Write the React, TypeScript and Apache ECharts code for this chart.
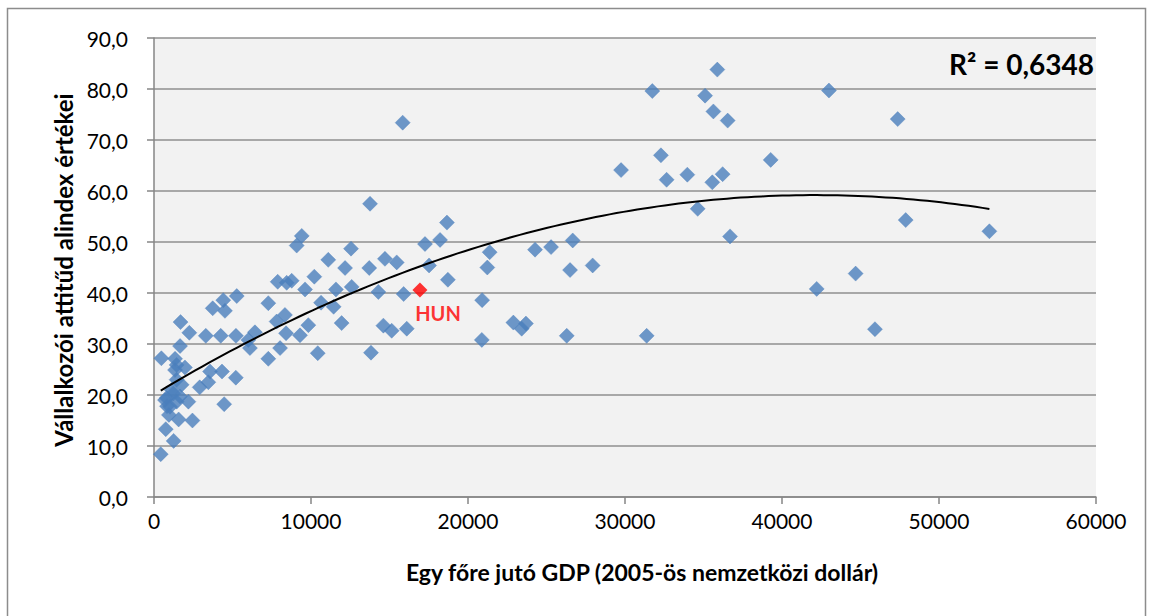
import React, { useEffect, useRef } from "react";
import * as echarts from "echarts";

// GDP per capita (2005 international dollars)
const gdp = [
  430, 1250, 750, 2450, 1570, 950, 1020, 830, 700, 810,
  1440, 2190, 4470, 1660, 1230, 1130, 1760, 2910, 3460, 1440,
  3570, 4330, 5210, 1340, 1970, 1440, 470, 1340, 1660, 1690,
  2250, 3300, 4250, 5220, 3740, 4410, 4520, 5270, 6010, 6430,
  6110, 7280, 7280, 8030, 7810, 8340, 8410, 9300, 9830, 10430,
  7880, 8450, 8770, 9620, 10210, 10640, 11440, 11590, 11100, 13760,
  9410, 9090, 12550, 18660, 18220, 17260, 12170, 13710, 14710, 15460,
  17520, 21380, 21230, 12590, 14290, 15900, 18720, 20900, 11950, 14610,
  15140, 16100, 20880, 13820, 15840, 29750, 32290, 32650, 33970, 34630,
  24270, 25290, 26670, 26500, 27940, 22890, 23690, 23420, 26290, 31380,
  35880, 31740, 35100, 42990, 35630, 36540, 47370, 35560, 36220, 39280,
  36690, 42210, 44690, 45920, 47880, 53210,
];
// Entrepreneurial attitude sub-index values
const attitude = [
  8.4, 11.0, 13.3, 15.0, 15.2, 16.1, 17.7, 17.8, 19.0, 19.4,
  18.7, 18.7, 18.2, 19.7, 20.3, 21.0, 22.0, 21.5, 22.5, 23.0,
  24.6, 24.6, 23.4, 24.9, 25.4, 25.9, 27.2, 27.1, 29.6, 34.3,
  32.2, 31.6, 31.6, 31.6, 37.0, 38.6, 36.5, 39.4, 30.8, 32.3,
  29.2, 38.0, 27.1, 29.2, 34.4, 35.7, 32.1, 31.7, 33.7, 28.2,
  42.2, 42.0, 42.4, 40.7, 43.2, 38.1, 37.3, 40.7, 46.5, 57.5,
  51.2, 49.3, 48.7, 53.8, 50.4, 49.6, 44.9, 44.9, 46.7, 46.0,
  45.4, 48.0, 45.0, 41.2, 40.2, 39.8, 42.6, 38.6, 34.1, 33.6,
  32.6, 33.0, 30.8, 28.3, 73.4, 64.1, 67.0, 62.2, 63.2, 56.5,
  48.5, 49.0, 50.3, 44.5, 45.4, 34.2, 34.0, 33.0, 31.6, 31.6,
  83.8, 79.6, 78.7, 79.7, 75.6, 73.8, 74.1, 61.7, 63.3, 66.1,
  51.1, 40.8, 43.8, 32.9, 54.3, 52.1,
];
const hunLabel = "HUN";
const hunGdp = [16940];
const hunAttitude = [40.6];

const xTicks = { min: 0, max: 60000, interval: 10000 };
const yTicks = { min: 0, max: 90, interval: 10 };

const xTitle = "Egy főre jutó GDP (2005-ös nemzetközi dollár)";
const yTitle = "Vállalkozói attitűd alindex értékei";
const r2Text = "R² = 0,6348";

// quadratic least-squares trend fitted to all points (x in thousands)
function quadFit(xs: number[], ys: number[]) {
  const n = xs.length;
  let s1 = 0, s2 = 0, s3 = 0, s4 = 0, t0 = 0, t1 = 0, t2 = 0;
  for (let i = 0; i < n; i++) {
    const x = xs[i] / 1000, y = ys[i];
    s1 += x; s2 += x * x; s3 += x * x * x; s4 += x * x * x * x;
    t0 += y; t1 += x * y; t2 += x * x * y;
  }
  const M = [
    [n, s1, s2, t0],
    [s1, s2, s3, t1],
    [s2, s3, s4, t2],
  ];
  for (let c = 0; c < 3; c++) {
    for (let r = c + 1; r < 3; r++) {
      const f = M[r][c] / M[c][c];
      for (let k = c; k < 4; k++) M[r][k] -= f * M[c][k];
    }
  }
  const sol = [0, 0, 0];
  for (let r = 2; r >= 0; r--) {
    let s = M[r][3];
    for (let k = r + 1; k < 3; k++) s -= M[r][k] * sol[k];
    sol[r] = s / M[r][r];
  }
  return sol; // c, b, a
}

export default function App() {
  const ref = useRef<HTMLDivElement>(null);
  useEffect(() => {
    if (!ref.current) return;
    const chart = echarts.init(ref.current, null, { renderer: "svg" });
    const allX = gdp.concat(hunGdp);
    const allY = attitude.concat(hunAttitude);
    const [c, b, a] = quadFit(allX, allY);
    const minX = Math.min(...allX);
    const maxX = Math.max(...allX);
    const trend: number[][] = [];
    const steps = 120;
    for (let i = 0; i <= steps; i++) {
      const x = minX + ((maxX - minX) * i) / steps;
      const xt = x / 1000;
      trend.push([x, c + b * xt + a * xt * xt]);
    }
    const font = "Lato, 'Open Sans', sans-serif";
    const axisGray = "#868686";
    chart.setOption({
      animation: false,
      textStyle: { fontFamily: font },
      grid: {
        left: 154,
        right: 57,
        top: 38,
        bottom: 119,
        show: true,
        backgroundColor: "#f2f2f2",
        borderWidth: 0,
      },
      xAxis: {
        type: "value",
        min: xTicks.min,
        max: xTicks.max,
        interval: xTicks.interval,
        axisLine: { show: true, onZero: false, lineStyle: { color: axisGray, width: 1.5 } },
        axisTick: { show: true, length: 7, lineStyle: { color: axisGray, width: 1.5 } },
        splitLine: { show: false },
        axisLabel: {
          color: "#000",
          fontSize: 21,
          margin: 13,
          fontFamily: font,
          formatter: (v: number) => String(v),
        },
      },
      yAxis: {
        type: "value",
        min: yTicks.min,
        max: yTicks.max,
        interval: yTicks.interval,
        axisLine: { show: true, lineStyle: { color: axisGray, width: 1.5 } },
        axisTick: { show: true, length: 7, lineStyle: { color: axisGray, width: 1.5 } },
        splitLine: { show: true, lineStyle: { color: "#8f8f8f", width: 1.5 } },
        axisLabel: {
          color: "#000",
          fontSize: 21,
          margin: 26,
          fontFamily: font,
          formatter: (v: number) => v.toFixed(1).replace(".", ","),
        },
      },
      series: [
        {
          type: "scatter",
          data: gdp.map((x, i) => [x, attitude[i]]),
          symbol: "diamond",
          symbolSize: 15,
          itemStyle: { color: "#4a7ebb", borderColor: "#4f81bd", borderWidth: 0.5 },
          z: 2,
        },
        {
          type: "scatter",
          data: hunGdp.map((x, i) => [x, hunAttitude[i]]),
          symbol: "diamond",
          symbolSize: 15,
          itemStyle: { color: "#ff0000" },
          label: {
            show: true,
            formatter: hunLabel,
            position: "inside",
            offset: [18, 23],
            color: "#ff0000",
            fontWeight: "bold",
            fontSize: 20,
            fontFamily: font,
          },
          z: 3,
        },
        {
          type: "line",
          data: trend,
          showSymbol: false,
          symbol: "none",
          smooth: false,
          lineStyle: { color: "#000", width: 2 },
          z: 4,
          silent: true,
        },
      ],
      graphic: [
        {
          type: "rect",
          shape: { x: 7.5, y: 8.5, width: 1138, height: 700 },
          style: { fill: "none", stroke: "#8c8c8c", lineWidth: 1.5 },
          silent: true,
        },
        {
          type: "text",
          x: 63,
          y: 270,
          rotation: Math.PI / 2,
          style: {
            text: yTitle,
            font: `bold 24px ${font}`,
            fill: "#000",
            textAlign: "center",
            textVerticalAlign: "middle",
          },
        },
        {
          type: "text",
          x: 642,
          y: 572,
          style: {
            text: xTitle,
            font: `bold 23px ${font}`,
            fill: "#000",
            textAlign: "center",
            textVerticalAlign: "middle",
          },
        },
        {
          type: "text",
          x: 1094,
          y: 64,
          style: {
            text: r2Text,
            font: `bold 28px ${font}`,
            fill: "#000",
            textAlign: "right",
            textVerticalAlign: "middle",
          },
        },
      ],
    });
    return () => chart.dispose();
  }, []);
  return (
    <div
      ref={ref}
      style={{ position: "absolute", left: 0, top: 0, width: 1153, height: 616, background: "#fff" }}
    />
  );
}
